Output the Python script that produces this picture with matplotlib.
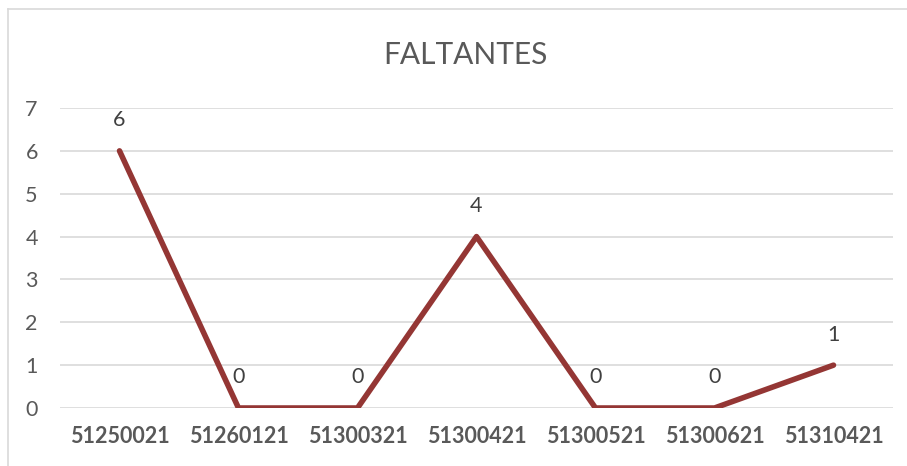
import matplotlib
matplotlib.use("Agg")
import matplotlib.pyplot as plt
from matplotlib.lines import Line2D

# data
codigos = ['51250021', '51260121', '51300321', '51300421', '51300521', '51300621', '51310421']
faltantes = [6, 0, 0, 4, 0, 0, 1]
y_ticks = [0, 1, 2, 3, 4, 5, 6, 7]

plt.rcParams['font.family'] = ['Lato', 'DejaVu Sans']

W, H = 907, 466
fig = plt.figure(figsize=(W / 100, H / 100), dpi=100)

# light chart-area border (left and top only visible)
fig.add_artist(Line2D([8 / W, 8 / W], [0, 1 - 9 / H], color='#d9d9d9', lw=1.2))
fig.add_artist(Line2D([8 / W, 1], [1 - 9 / H, 1 - 9 / H], color='#d9d9d9', lw=1.2))

ax = fig.add_axes([60 / W, 58 / H, 833 / W, 300 / H])

x = list(range(len(codigos)))
ax.plot(x, faltantes, color='#943634', lw=4, solid_capstyle='round', solid_joinstyle='round', zorder=3)

for xi, v in zip(x, faltantes):
    ax.annotate(str(v), (xi, v), xytext=(0, 22), textcoords='offset points',
                ha='center', va='center', fontsize=15.5, color='#404040')

ax.set_xlim(-0.5, len(codigos) - 0.5)
ax.set_ylim(0, 7)
ax.set_yticks(y_ticks)
ax.set_xticks(x)
ax.set_xticklabels(codigos, fontsize=15.5, fontweight='bold', color='#595959')
ax.tick_params(axis='y', labelsize=15.5, labelcolor='#595959', length=0, pad=16)
ax.tick_params(axis='x', length=0, pad=13)

ax.grid(axis='y', color='#d9d9d9', lw=1.2)
ax.set_axisbelow(True)
for s in ax.spines.values():
    s.set_visible(False)

fig.text(465 / W, 1 - 55 / H, 'FALTANTES', ha='center', va='center', fontsize=21.5, color='#595959')

fig.savefig('out.png', dpi=100)
